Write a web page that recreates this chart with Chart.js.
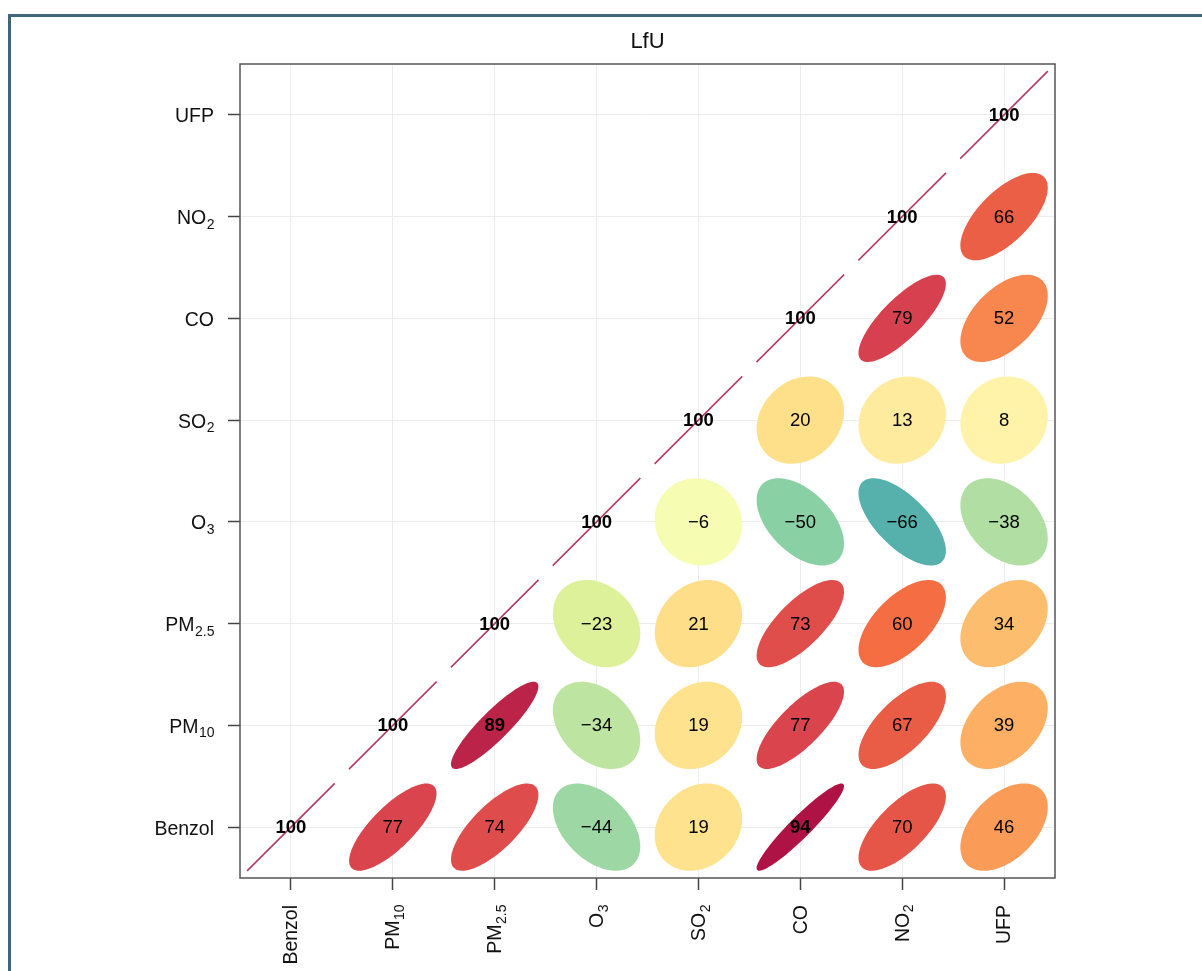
<!DOCTYPE html>
<html>
<head>
<meta charset="utf-8">
<script src="https://cdn.jsdelivr.net/npm/chart.js@4.4.0/dist/chart.umd.min.js"></script>
<style>
  body { margin: 0; background: #fff; }
  #frame { position: absolute; left: 8px; top: 14px; width: 1194px; height: 957px;
           border-left: 3px solid #3e6579; border-top: 3px solid #3e6579; box-sizing: border-box; }
  #c { position: absolute; left: 0; top: 0; }
</style>
</head>
<body>
<div id="frame"></div>
<canvas id="c" width="1202" height="971"></canvas>
<script>

// variables, bottom-to-top on y and left-to-right on x
const names = ['Benzol', 'PM10', 'PM2.5', 'O3', 'SO2', 'CO', 'NO2', 'UFP'];
const labelMain = ['Benzol', 'PM', 'PM', 'O', 'SO', 'CO', 'NO', 'UFP'];
const labelSub = ['', '10', '2.5', '3', '2', '', '2', ''];

// correlations (x 100), one row per y variable, starting at the diagonal
const corBenzol = [100, 77, 74, -44, 19, 94, 70, 46];
const corPM10 = [100, 89, -34, 19, 77, 67, 39];
const corPM25 = [100, -23, 21, 73, 60, 34];
const corO3 = [100, -6, -50, -66, -38];
const corSO2 = [100, 20, 13, 8];
const corCO = [100, 79, 52];
const corNO2 = [100, 66];
const corUFP = [100];
const rows = [corBenzol, corPM10, corPM25, corO3, corSO2, corCO, corNO2, corUFP];

// reversed brewer Spectral
const spectral = ['#5E4FA2', '#3288BD', '#66C2A5', '#ABDDA4', '#E6F598', '#FFFFBF',
                  '#FEE08B', '#FDAE61', '#F46D43', '#D53E4F', '#9E0142'];

function hex(c) { return [1, 3, 5].map(i => parseInt(c.substr(i, 2), 16)); }
function colourFor(r) {
  let p = (r + 1) / 2 * 10;
  let i = Math.min(9, Math.floor(p));
  let f = p - i;
  let a = hex(spectral[i]), b = hex(spectral[i + 1]);
  let m = a.map((v, k) => Math.round(v + (b[k] - v) * f));
  return 'rgb(' + m.join(',') + ')';
}

const S = 0.429;
function ellipsePts(r, cx, cy) {
  let d = Math.acos(r);
  let pts = [];
  for (let k = 0; k < 90; k++) {
    let t = k / 90 * 2 * Math.PI;
    pts.push({ x: cx + S * Math.cos(t + d / 2), y: cy + S * Math.cos(t - d / 2) });
  }
  return pts;
}

let cells = [];
rows.forEach((row, yi) => {
  row.forEach((v, k) => {
    cells.push({ x: yi + k + 1, y: yi + 1, v: v, diag: k === 0 });
  });
});

let diag = [];
names.forEach((n, i) => {
  diag.push({ x: i + 1 - 0.43, y: i + 1 - 0.43 });
  diag.push({ x: i + 1 + 0.43, y: i + 1 + 0.43 });
  diag.push({ x: i + 1.5, y: null });
});

const FONT = '"Liberation Sans", Arial, sans-serif';

function drawLabel(ctx, main, sub, size) {
  // draws at origin, right aligned, middle baseline
  let subSize = Math.round(size * 0.7);
  ctx.font = size + 'px ' + FONT;
  let wm = ctx.measureText(main).width;
  ctx.font = subSize + 'px ' + FONT;
  let ws = sub ? ctx.measureText(sub).width : 0;
  let x0 = -(wm + ws);
  ctx.textAlign = 'left';
  ctx.textBaseline = 'middle';
  ctx.font = size + 'px ' + FONT;
  ctx.fillText(main, x0, 0);
  if (sub) {
    ctx.font = subSize + 'px ' + FONT;
    ctx.fillText(sub, x0 + wm + 0.5, size * 0.32);
  }
}

const corPlugin = {
  id: 'corPlot',
  beforeDatasetsDraw(chart) {
    const ctx = chart.ctx, xs = chart.scales.x, ys = chart.scales.y;
    ctx.save();
    cells.forEach(c => {
      if (c.diag) return;
      let pts = ellipsePts(c.v / 100, c.x, c.y);
      ctx.beginPath();
      pts.forEach((p, k) => {
        let px = xs.getPixelForValue(p.x), py = ys.getPixelForValue(p.y);
        if (k === 0) ctx.moveTo(px, py); else ctx.lineTo(px, py);
      });
      ctx.closePath();
      ctx.fillStyle = colourFor(c.v / 100);
      ctx.fill();
    });
    ctx.restore();
  },
  afterDatasetsDraw(chart) {
    const ctx = chart.ctx, xs = chart.scales.x, ys = chart.scales.y;
    ctx.save();
    ctx.fillStyle = '#000';
    ctx.textAlign = 'center';
    ctx.textBaseline = 'middle';
    cells.forEach(c => {
      let bold = c.v >= 85;
      ctx.font = (bold ? 'bold ' : '') + '18.5px ' + FONT;
      let s = c.v < 0 ? '\u2212' + Math.abs(c.v) : String(c.v);
      ctx.fillText(s, xs.getPixelForValue(c.x), ys.getPixelForValue(c.y) + 1);
    });
    ctx.restore();
  },
  afterDraw(chart) {
    const ctx = chart.ctx, a = chart.chartArea, xs = chart.scales.x, ys = chart.scales.y;
    ctx.save();
    ctx.strokeStyle = '#555';
    ctx.lineWidth = 1.5;
    ctx.strokeRect(a.left, a.top, a.right - a.left, a.bottom - a.top);
    ctx.fillStyle = '#111';
    names.forEach((n, i) => {
      ctx.save();
      ctx.translate(a.left - 26, ys.getPixelForValue(i + 1) + 2);
      drawLabel(ctx, labelMain[i], labelSub[i], 19.5);
      ctx.restore();
      ctx.save();
      ctx.translate(xs.getPixelForValue(i + 1) + 1, a.bottom + 27);
      ctx.rotate(-Math.PI / 2);
      drawLabel(ctx, labelMain[i], labelSub[i], 19.5);
      ctx.restore();
    });
    ctx.font = '22px ' + FONT;
    ctx.textAlign = 'center';
    ctx.textBaseline = 'middle';
    ctx.fillStyle = '#111';
    ctx.fillText('LfU', (a.left + a.right) / 2, 42);
    ctx.restore();
  }
};

function axis(pos) {
  return {
    type: 'linear',
    position: pos,
    min: 0.5,
    max: 8.5,
    afterBuildTicks: s => { s.ticks = names.map((n, i) => ({ value: i + 1 })); },
    afterFit: s => { if (pos === 'left') s.width = 240; else s.height = 93; },
    ticks: { callback: () => '', autoSkip: false },
    grid: { color: '#ececec', lineWidth: 1, drawTicks: true, tickLength: 12, tickColor: '#444', tickWidth: 1.5 },
    border: { display: false }
  };
}

new Chart(document.getElementById('c'), {
  type: 'scatter',
  data: {
    datasets: [{
      type: 'line',
      data: diag,
      borderColor: '#b03a62',
      borderWidth: 1.5,
      pointRadius: 0,
      spanGaps: false,
      fill: false
    }]
  },
  options: {
    responsive: false,
    animation: false,
    devicePixelRatio: 1,
    layout: { padding: { top: 64, right: 147, left: 0, bottom: 0 } },
    plugins: { legend: { display: false }, tooltip: { enabled: false } },
    scales: { x: axis('bottom'), y: axis('left') }
  },
  plugins: [corPlugin]
});
</script>
</body>
</html>
